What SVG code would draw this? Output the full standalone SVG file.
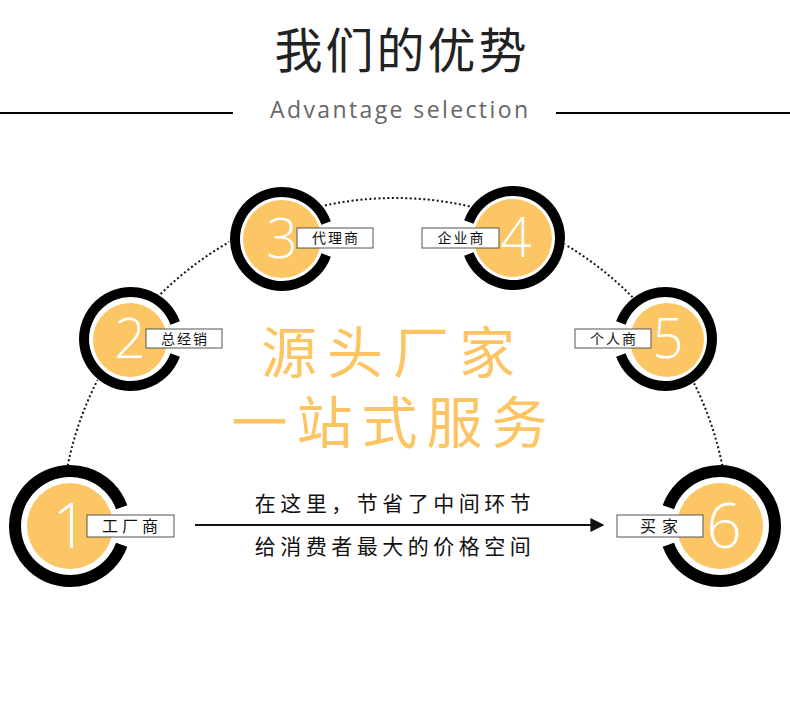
<svg xmlns="http://www.w3.org/2000/svg" width="790" height="713" viewBox="0 0 790 713">
<defs>
<style>
.cjk{font-family:"Noto Sans CJK SC","Noto Sans",sans-serif;}
.ring{fill:none;stroke:#000;}
.big{stroke-width:12;}
.small{stroke-width:10;}
.bg{fill:#fff;}
.dot{fill:#FDC664;}
.num{font-family:"Open Sans",Lato,sans-serif;font-weight:300;fill:#fff;text-anchor:middle;}
.lbox{fill:#fff;stroke:#555;stroke-width:1;}
.ltxt{font-family:"Noto Sans CJK SC","Noto Sans",sans-serif;fill:#111;text-anchor:middle;}
.orange{font-family:"Noto Sans CJK SC","Noto Sans",sans-serif;fill:#FCC462;text-anchor:middle;}
</style>
<marker id="arr" viewBox="0 0 10 10" refX="9" refY="5" markerWidth="7" markerHeight="7" markerUnits="strokeWidth" orient="auto">
<path d="M0,0 L10,5 L0,10 z" fill="#111"/>
</marker>
</defs>
<rect width="790" height="713" fill="#fff"/>

<g id="header">
<text x="402" y="68" class="cjk" font-size="48" fill="#222" text-anchor="middle" letter-spacing="3">我们的优势</text>
<line x1="0" y1="113" x2="233" y2="113" stroke="#000" stroke-width="2"/>
<line x1="556" y1="113" x2="790" y2="113" stroke="#000" stroke-width="2"/>
<text x="399" y="118" font-family="'Open Sans','Noto Sans',sans-serif" font-size="23" fill="#666" text-anchor="middle" textLength="258" lengthAdjust="spacing">Advantage selection</text>
</g>

<g id="connectors">
<path d="M66.8,470 A334,334 0 0 1 723.2,470" fill="none" stroke="#111" stroke-width="2" stroke-dasharray="2 2.5"/>
<line x1="195" y1="525" x2="603" y2="525" stroke="#111" stroke-width="2" marker-end="url(#arr)"/>
</g>

<g id="center-text">
<text x="393" y="373" class="orange" font-size="56" letter-spacing="10">源头厂家</text>
<text x="394" y="443" class="orange" font-size="56" letter-spacing="9">一站式服务</text>
<text x="395" y="511" class="cjk" font-size="21" fill="#111" text-anchor="middle" letter-spacing="4.5">在这里，节省了中间环节</text>
<text x="395" y="554" class="cjk" font-size="21" fill="#111" text-anchor="middle" letter-spacing="4.5">给消费者最大的价格空间</text>
</g>

<g id="node1">
<circle cx="70" cy="526" r="61" class="bg"/>
<path d="M121.68,544.81 A55,55 0 1 1 121.68,507.19" class="ring big"/>
<circle cx="70" cy="526" r="43" class="dot"/>
<text x="70" y="548" class="num" font-size="62">1</text>
<rect x="87" y="515" width="87" height="22" class="lbox"/>
<text x="132" y="532" class="ltxt" font-size="16" letter-spacing="4">工厂商</text>
</g>

<g id="node2">
<circle cx="131" cy="339" r="53" class="bg"/>
<path d="M175.17,355.07 A47,47 0 1 1 175.17,322.93" class="ring small"/>
<circle cx="130" cy="340" r="37" class="dot"/>
<text x="130" y="358" class="num" font-size="55">2</text>
<rect x="146" y="329" width="76" height="19" class="lbox"/>
<text x="185" y="343.5" class="ltxt" font-size="14" letter-spacing="2">总经销</text>
</g>

<g id="node3">
<circle cx="282" cy="239" r="53" class="bg"/>
<path d="M326.17,255.07 A47,47 0 1 1 326.17,222.93" class="ring small"/>
<circle cx="282" cy="239" r="39" class="dot"/>
<text x="282" y="258" class="num" font-size="55">3</text>
<rect x="297" y="228" width="76" height="20" class="lbox"/>
<text x="336" y="243" class="ltxt" font-size="14" letter-spacing="2">代理商</text>
</g>

<g id="node4">
<circle cx="513" cy="238" r="53" class="bg"/>
<path d="M468.83,221.93 A47,47 0 1 1 468.83,254.07" class="ring small"/>
<circle cx="513" cy="238" r="39" class="dot"/>
<text x="516" y="257" class="num" font-size="55">4</text>
<rect x="422" y="228" width="77" height="20" class="lbox"/>
<text x="461.5" y="243" class="ltxt" font-size="14" letter-spacing="2">企业商</text>
</g>

<g id="node5">
<circle cx="665" cy="339" r="53" class="bg"/>
<path d="M620.83,322.93 A47,47 0 1 1 620.83,355.07" class="ring small"/>
<circle cx="667" cy="340" r="37" class="dot"/>
<text x="668" y="358" class="num" font-size="55">5</text>
<rect x="575" y="329" width="76" height="19" class="lbox"/>
<text x="614" y="343.5" class="ltxt" font-size="14" letter-spacing="2">个人商</text>
</g>

<g id="node6">
<circle cx="720" cy="526" r="61" class="bg"/>
<path d="M668.32,507.19 A55,55 0 1 1 668.32,544.81" class="ring big"/>
<circle cx="720" cy="526" r="43" class="dot"/>
<text x="724" y="548" class="num" font-size="62">6</text>
<rect x="617" y="515" width="86" height="22" class="lbox"/>
<text x="662" y="532" class="ltxt" font-size="16" letter-spacing="6">买家</text>
</g>
</svg>
